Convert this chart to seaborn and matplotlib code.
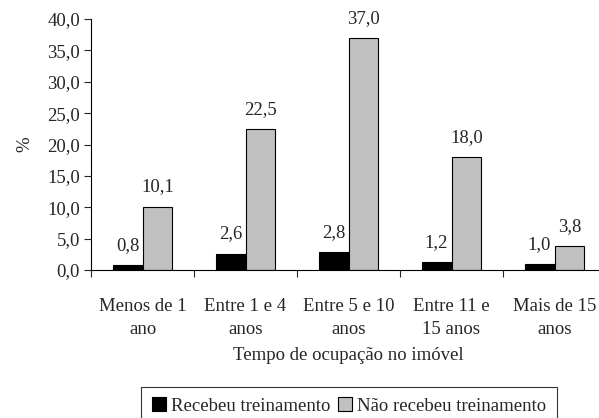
import pandas as pd
import numpy as np
import matplotlib.pyplot as plt
import seaborn as sns
from matplotlib.ticker import FixedLocator

# dados
categorias = ["Menos de 1\nano", "Entre 1 e 4\nanos", "Entre 5 e 10\nanos",
              "Entre 11 e\n15 anos", "Mais de 15\nanos"]
recebeu = [0.8, 2.6, 2.8, 1.2, 1.0]
nao_recebeu = [10.1, 22.5, 37.0, 18.0, 3.8]
series = ["Recebeu treinamento", "Não recebeu treinamento"]
cores = ["#000000", "#c0c0c0"]

df = pd.DataFrame({
    "Tempo": categorias * 2,
    "Valor": recebeu + nao_recebeu,
    "Grupo": [series[0]] * 5 + [series[1]] * 5,
})

sns.set_style("white")
plt.rcParams['font.family'] = ['Liberation Serif', 'DejaVu Serif']
plt.rcParams['font.size'] = 13.5

fig = plt.figure(figsize=(5.99, 4.18), dpi=100)
ax = fig.add_axes([91 / 599, 1 - 270 / 418, 515 / 599, 251 / 418])

sns.barplot(data=df, x="Tempo", y="Valor", hue="Grupo", palette=cores,
            width=0.58, edgecolor="black", linewidth=0.8, ax=ax, legend=True)

for cont in ax.containers:
    ax.bar_label(cont, labels=[f"{v:.1f}".replace(".", ",") for v in cont.datavalues],
                 padding=8, fontsize=13.5)

ax.set_ylim(0, 40)
ax.set_yticks(np.arange(0, 40.1, 5))
ax.set_yticklabels([f"{v:.1f}".replace(".", ",") for v in np.arange(0, 40.1, 5)],
                   fontsize=13.5)
ax.set_xlim(-0.5, 4.5)
ax.set_xticks(range(len(categorias)))
ax.set_xticklabels(categorias, fontsize=13.5, linespacing=1.5,
                   multialignment="center")
ax.tick_params(axis="x", which="major", length=0, pad=20)
ax.xaxis.set_minor_locator(FixedLocator(np.arange(-0.5, 5, 1)))
ax.tick_params(axis="x", which="minor", length=5, width=0.8, direction="out", bottom=True)
ax.tick_params(axis="y", length=5, width=0.8, direction="out", left=True, pad=3)

for s in ["top", "right"]:
    ax.spines[s].set_visible(False)
for s in ["left", "bottom"]:
    ax.spines[s].set_color("black")
    ax.spines[s].set_linewidth(0.8)

ax.set_xlabel("Tempo de ocupação no imóvel", labelpad=6, fontsize=13.5)
ax.set_ylabel("%", labelpad=10, fontsize=13.5)

leg = ax.legend(loc="upper center", bbox_to_anchor=(349 / 599, 1 - 387 / 418),
                bbox_transform=fig.transFigure, ncol=2, frameon=True,
                fancybox=False, edgecolor="black", handlelength=0.75,
                handleheight=0.75, handletextpad=0.25, columnspacing=0.45,
                borderpad=0.55, borderaxespad=0, fontsize=13.5)
leg.get_frame().set_linewidth(0.8)

plt.savefig("out.png", dpi=100)
